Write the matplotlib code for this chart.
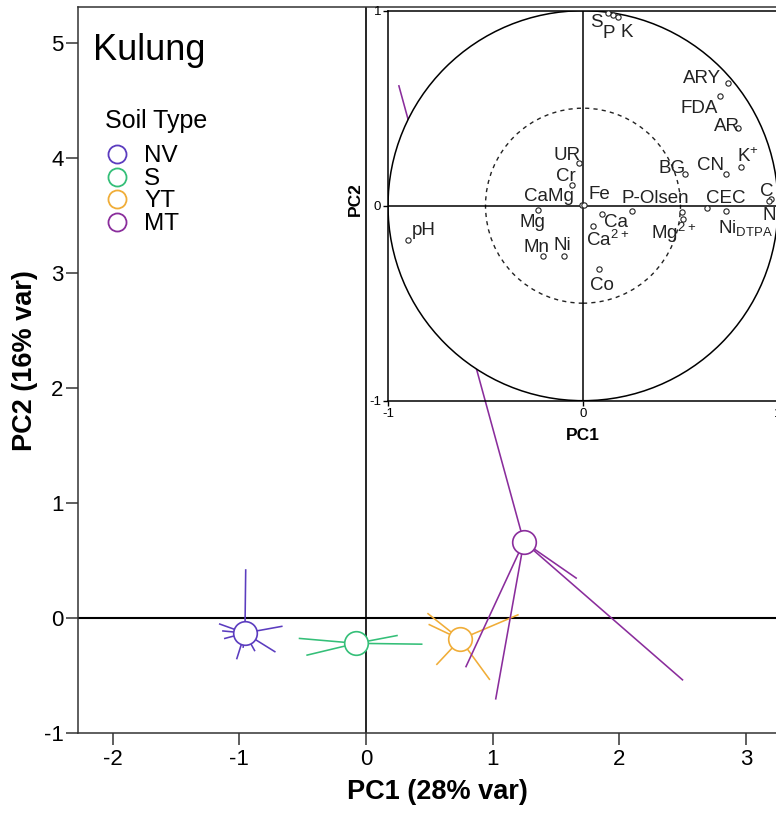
import matplotlib
matplotlib.use("Agg")
import matplotlib.pyplot as plt
import numpy as np
from matplotlib.patches import Circle

plt.rcParams['font.family'] = ['Liberation Sans', 'DejaVu Sans']
plt.rcParams['mathtext.fontset'] = 'custom'
plt.rcParams['mathtext.rm'] = 'Liberation Sans'
plt.rcParams['mathtext.default'] = 'regular'
plt.rcParams['axes.unicode_minus'] = False

# --- sample scores (PC1, PC2) per soil type ---
groups = ['NV', 'S', 'YT', 'MT']
group_colors = ['#5b3cbf', '#34bf78', '#f0ad38', '#8a2d9c']

nv_x = [-0.95, -0.665, -1.155, -1.13, -1.115, -1.02, -0.97, -0.88, -0.72]
nv_y = [0.42, -0.07, -0.05, -0.11, -0.175, -0.35, -0.25, -0.28, -0.29]
s_x = [-0.525, -0.465, 0.245, 0.44]
s_y = [-0.175, -0.32, -0.15, -0.225]
yt_x = [0.49, 0.50, 1.20, 0.56, 0.975]
yt_y = [0.04, -0.055, 0.03, -0.40, -0.53]
mt_x = [0.26, 0.79, 1.025, 1.66, 2.50]
mt_y = [4.63, -0.42, -0.70, 0.35, -0.535]

# --- variable loadings for the correlation circle ---
var_names = ['S', 'P', 'K', 'ARY', 'FDA', 'AR', 'K$^{+}$', 'CN', 'BG', 'C', 'N',
             'CEC', 'Ni$_{DTPA}$', 'Mg$^{2+}$', 'P-Olsen', 'UR', 'Cr', 'CaMg', 'Fe',
             'Mg', 'Mn', 'Ni', 'Ca', '', 'Ca$^{2+}$', 'Co', 'pH']
var_x = [0.127, 0.156, 0.181, 0.742, 0.701, 0.797, 0.809, 0.733, 0.523, 0.964, 0.955,
         0.634, 0.733, 0.514, 0.506, -0.019, -0.058, -0.003, 0.003,
         -0.229, -0.204, -0.097, 0.250, 0.096, 0.053, 0.084, -0.899]
var_y = [0.987, 0.978, 0.969, 0.628, 0.564, 0.397, 0.200, 0.162, 0.161, 0.034, 0.024,
         -0.013, -0.026, -0.070, -0.031, 0.218, 0.106, 0.003, 0.003,
         -0.022, -0.258, -0.258, -0.027, -0.043, -0.104, -0.326, -0.176]
# label placement (pixels from point)
label_offsets = [(-11.5, -13.4), (-4.6, -23.4), (8.7, -20.3), (-25.6, 0), (-20.6, -17.3),
                 (-11.6, -2.4), (7.6, 5.2), (-15.3, 4), (-13, 1.6), (-4.3, 3.3), (0.4, -18.7),
                 (19, 5.6), (-8, -22), (-10, -20.1), (-26.4, 9), (-12, 3.3), (-6, 4.3),
                 (-33, 4), (15.7, 5.7), (-6, -16.7), (-6.6, 4.3), (-2, 6), (-16, -15.7),
                 (0, 0), (14, -20), (2.4, -21), (16.3, 5)]

W, H = 776, 816
fig = plt.figure(figsize=(W / 100, H / 100), dpi=100)

# main score plot
ax = fig.add_axes([77.7 / W, (H - 733.3) / H, 731.4 / W, 726.3 / H])
ax.set_xlim(-2.277, 3.5)
ax.set_ylim(-1, 5.316)
ax.axhline(0, color='black', lw=1.5, zorder=1)
ax.axvline(0, color='black', lw=1.2, zorder=1)

samples = [(nv_x, nv_y), (s_x, s_y), (yt_x, yt_y), (mt_x, mt_y)]
for (gx, gy), col in zip(samples, group_colors):
    cx, cy = np.mean(gx), np.mean(gy)
    for px, py in zip(gx, gy):
        ax.plot([cx, px], [cy, py], color=col, lw=1.15, zorder=2)
    ax.plot(cx, cy, 'o', ms=17, mfc='white', mec=col, mew=1.2, zorder=3)

ax.set_xticks([-2, -1, 0, 1, 2, 3])
ax.set_yticks([-1, 0, 1, 2, 3, 4, 5])
ax.tick_params(axis='both', labelsize=16, length=8.6, width=1.1, color='#333333')
ax.tick_params(axis='x', pad=3)
ax.tick_params(axis='y', pad=1.5)
for side in ['left', 'bottom', 'top']:
    ax.spines[side].set_color('#333333')
    ax.spines[side].set_linewidth(1.1)
ax.spines['right'].set_visible(False)

ax.set_xlabel('PC1 (28% var)', fontsize=19.5, fontweight='bold')
ax.xaxis.set_label_coords((437 - 77.7) / 731.4, (733.3 - 792) / 726.3)
ax.xaxis.label.set_va('center')
ax.set_ylabel('PC2 (16% var)', fontsize=19.5, fontweight='bold')
ax.yaxis.set_label_coords((25 - 77.7) / 731.4, (733.3 - 361) / 726.3)
ax.yaxis.label.set_va('center')

# title and legend
fig.text(93 / W, 1 - 60 / H, 'Kulung', fontsize=26, va='baseline')
fig.text(105 / W, 1 - 128 / H, 'Soil Type', fontsize=18, va='baseline')
legend_y = [154, 176.5, 199, 222]
for name, col, ly in zip(groups, group_colors, legend_y):
    fig.lines.append(plt.Line2D([116.7 / W], [1 - ly / H], marker='o', ms=13, mfc='none',
                                mec=col, mew=1.3, transform=fig.transFigure))
    fig.text(144 / W, 1 - (ly + 8.3) / H, name, fontsize=17.5, va='baseline')

# correlation circle inset
ax2 = fig.add_axes([388 / W, (H - 400.7) / H, 390 / W, 390 / H])
ax2.patch.set_alpha(0)
ax2.set_xlim(-1, 1)
ax2.set_ylim(-1, 1)
ax2.add_patch(Circle((0, 0), 1, fc='white', ec='black', lw=1.1, zorder=1))
ax2.add_patch(Circle((0, 0), 0.5, fc='none', ec='#222222', lw=1.0, ls=(0, (3, 3)), zorder=2))
ax2.axhline(0, color='black', lw=1.1, zorder=2)
ax2.axvline(0, color='black', lw=1.1, zorder=2)
ax2.plot(var_x, var_y, 'o', ms=3.8, mfc='white', mec='#222222', mew=0.8, ls='none', zorder=4)
for name, vx, vy, (dx, dy) in zip(var_names, var_x, var_y, label_offsets):
    if not name:
        continue
    ha = 'left' if 'DTPA' in name else 'center'
    ax2.annotate(name, (vx, vy), xytext=(dx, dy), textcoords='offset pixels',
                 ha=ha, va='baseline', fontsize=13.5, color='#222222', zorder=5)

ax2.set_xticks([-1, 0, 1])
ax2.set_yticks([-1, 0, 1])
ax2.tick_params(labelsize=9.5, length=3.5, width=1, pad=1.5)
for sp in ax2.spines.values():
    sp.set_linewidth(1.1)
ax2.set_xlabel('PC1', fontsize=12.5, fontweight='bold')
ax2.xaxis.set_label_coords((583 - 388) / 390, (400.7 - 435.5) / 390)
ax2.xaxis.label.set_va('center')
ax2.set_ylabel('PC2', fontsize=12.5, fontweight='bold')
ax2.yaxis.set_label_coords((355 - 388) / 390, (400.7 - 199) / 390)
ax2.yaxis.label.set_va('center')

fig.savefig('out.png', dpi=100)
